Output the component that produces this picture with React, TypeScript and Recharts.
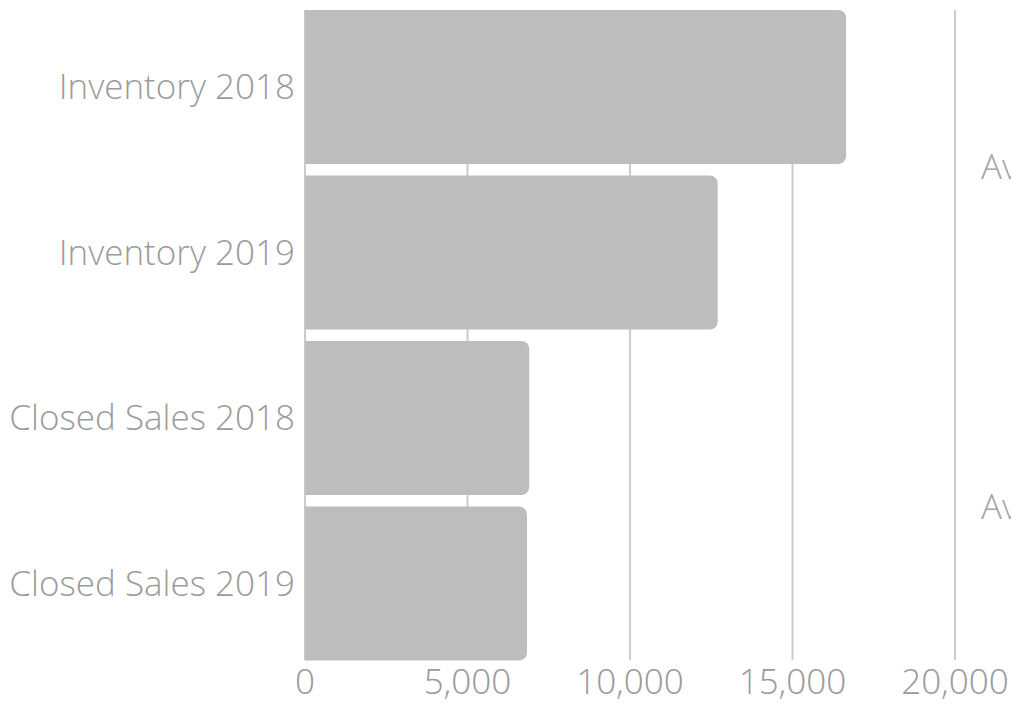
import { BarChart, Bar, XAxis, YAxis, CartesianGrid } from 'recharts';

const categories = ['Inventory 2018', 'Inventory 2019', 'Closed Sales 2018', 'Closed Sales 2019'];
const values = [16650, 12700, 6900, 6830];
const xTicks = [0, 5000, 10000, 15000, 20000];
const sideNotes = ['Average', 'Average'];

const data = categories.map((name, i) => ({ name, value: values[i] }));

const font = "'Open Sans Light', 'Open Sans', sans-serif";
const textGrey = '#9b9b9b';

const App = () => {
  return (
    <div style={{ position: 'fixed', left: 0, top: 0, width: 1011, height: 704, overflow: 'hidden', background: '#fff' }}>
      <BarChart
        width={1011}
        height={704}
        data={data}
        layout="vertical"
        margin={{ top: 10, right: 56, left: 0, bottom: 0 }}
      >
        <CartesianGrid horizontal={false} stroke="#cbcbcb" strokeWidth={2} />
        <XAxis
          type="number"
          domain={[0, 20000]}
          ticks={xTicks}
          interval={0}
          axisLine={false}
          tickLine={false}
          tickSize={0}
          tickMargin={9}
          height={44}
          tickFormatter={(v: number) => v.toLocaleString('en-US')}
          tick={{ fill: textGrey, fontSize: 35, fontFamily: font, fontWeight: 300 }}
        />
        <YAxis
          type="category"
          dataKey="name"
          width={305}
          axisLine={false}
          tickLine={false}
          tickSize={0}
          tickMargin={10}
          interval={0}
          padding={{ top: -6, bottom: -6 }}
          tick={{ fill: textGrey, fontSize: 35, fontFamily: font, fontWeight: 300 }}
        />
        <Bar dataKey="value" fill="#bcbdbc" barSize={154} radius={[0, 8, 8, 0]} isAnimationActive={false} />
      </BarChart>
      {/* labels that run off the right edge, as in the reference */}
      <svg width={1011} height={704} style={{ position: 'absolute', left: 0, top: 0, pointerEvents: 'none' }}>
        <text x={981} y={179} fill="#a5a5a5" fontSize={35} fontFamily={font} fontWeight={300}>{sideNotes[0]}</text>
        <text x={981} y={519} fill="#a5a5a5" fontSize={35} fontFamily={font} fontWeight={300}>{sideNotes[1]}</text>
      </svg>
    </div>
  );
};

export default App;
